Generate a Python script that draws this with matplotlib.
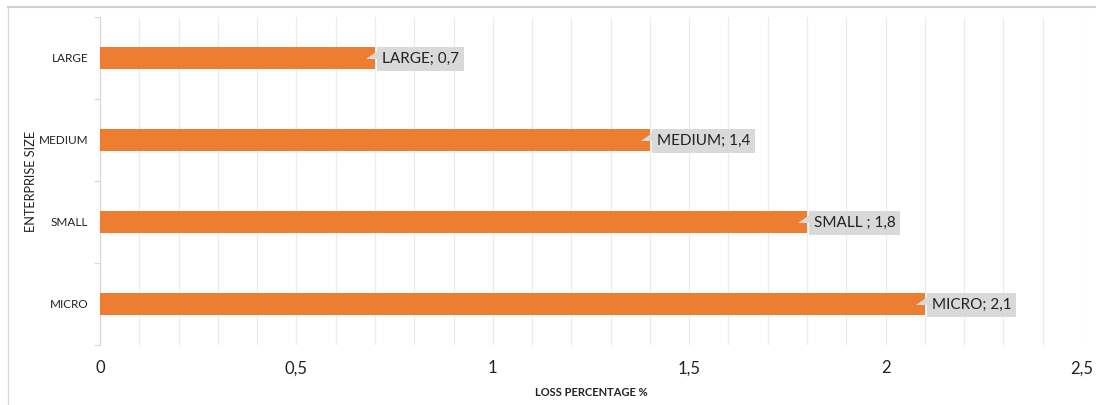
import matplotlib.pyplot as plt
from matplotlib.patches import Polygon
from matplotlib.lines import Line2D
import numpy as np

# data
sizes = ['LARGE', 'MEDIUM', 'SMALL', 'MICRO']
loss = [0.7, 1.4, 1.8, 2.1]
label_names = ['LARGE', 'MEDIUM', 'SMALL ', 'MICRO']
xticks = [0, 0.5, 1, 1.5, 2, 2.5]
xtick_labels = ['0', '0,5', '1', '1,5', '2', '2,5']

plt.rcParams['font.family'] = ['Lato', 'DejaVu Sans']

fig = plt.figure(figsize=(10.96, 4.05), dpi=100)
ax = fig.add_axes([100 / 1096, 1 - 345 / 405, 982 / 1096, 328 / 405])

ypos = np.arange(len(sizes))
ax.barh(ypos, loss, height=0.27, color='#ED7D31', zorder=3)

ax.set_xlim(0, 2.5)
ax.set_ylim(3.5, -0.5)

# gridlines every 0.1
ax.set_xticks(xticks)
ax.set_xticklabels(xtick_labels, fontsize=12, color='#222222')
ax.set_xticks(np.arange(0, 2.51, 0.1), minor=True)
ax.grid(axis='x', which='both', color='#EBEBEB', linewidth=0.9, zorder=0)
ax.tick_params(axis='x', which='both', length=0, pad=11)

ax.set_yticks(ypos)
ax.set_yticklabels(sizes, fontsize=8.5, color='#222222')
ax.set_yticks(np.arange(-0.5, 3.6, 1), minor=True)
ax.tick_params(axis='y', which='major', length=0, pad=8.5)
ax.tick_params(axis='y', which='minor', length=4, color='#D9D9D9', width=0.9)

for s in ['top', 'right', 'bottom']:
    ax.spines[s].set_visible(False)
ax.spines['left'].set_color('#D9D9D9')
ax.spines['left'].set_linewidth(0.9)

ax.set_xlabel('LOSS PERCENTAGE %', fontsize=8, fontweight='bold', color='#222222', labelpad=8)
ax.set_ylabel('ENTERPRISE SIZE', fontsize=9.2, color='#222222', labelpad=1)

# callout labels
for y, v, name in zip(ypos, loss, label_names):
    ax.annotate(f'{name}; {v:.1f}'.replace('.', ','), xy=(v, y), xytext=(7, -1),
                textcoords='offset pixels', ha='left', va='center', fontsize=11,
                color='#222222', zorder=5,
                bbox=dict(boxstyle='square,pad=0.3', facecolor='#D9D9D9', edgecolor='none'))
    # pointer wedge
    x0, y0 = ax.transData.transform((v, y))
    pts = [(x0 - 9, y0 - 1), (x0 + 4, y0 + 8), (x0 + 4, y0 - 1)]
    ax.add_patch(Polygon(pts, closed=True, transform=None, facecolor='#D9D9D9',
                         edgecolor='none', zorder=4))

# outer chart border
fig.add_artist(Line2D([8 / 1096, 8 / 1096], [0, 1 - 7 / 405], transform=fig.transFigure,
                      color='#D9D9D9', linewidth=1))
fig.add_artist(Line2D([8 / 1096, 1], [1 - 7 / 405, 1 - 7 / 405], transform=fig.transFigure,
                      color='#D0D0D0', linewidth=1.5))

plt.savefig('out.png', dpi=100)
